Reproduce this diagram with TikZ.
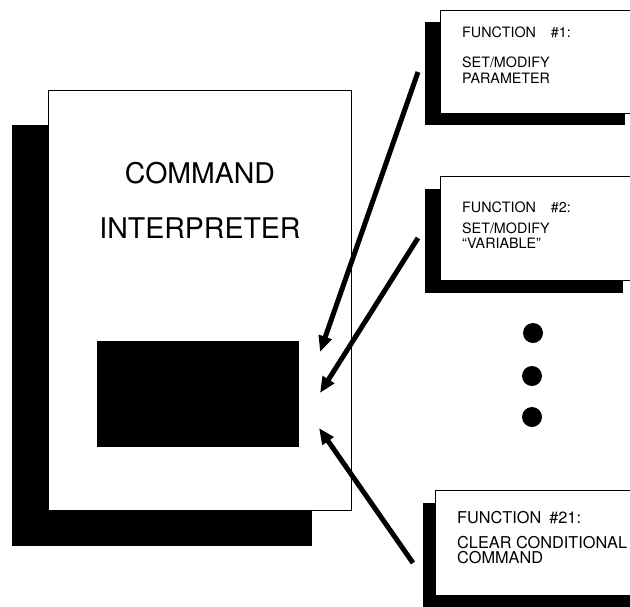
\documentclass[tikz,border=0pt]{standalone}
\usepackage{fontspec}
\setmainfont{TeX Gyre Heros}
\usetikzlibrary{arrows.meta}
\begin{document}
\begin{tikzpicture}[x=1pt,y=-1pt,
  sheet/.style={draw=black,line width=0.6pt,fill=white},
  big/.style={font=\fontsize{28.5}{30}\selectfont,anchor=base,inner sep=0pt},
  small/.style={font=\fontsize{14.3}{16}\selectfont,anchor=base west,inner sep=0pt},
  smallb/.style={font=\fontsize{16.3}{18}\selectfont,anchor=base west,inner sep=0pt},
  link/.style={line width=5pt,-{Triangle[length=16pt,width=13pt]}},
  blob/.style={circle,fill=black,inner sep=0pt,minimum size=20pt}]
\clip (0,0) rectangle (630,606);
\fill[white] (0,0) rectangle (630,606);
% command interpreter page
\fill (12,125) rectangle (312,546);
\draw[sheet] (48,90) rectangle (351,510);
\node[fill=black,minimum width=202pt,minimum height=106pt,inner sep=0pt] (slot) at (198,394) {};
\node[big] (cmd) at (200,183) {COMMAND};
\node[big] (interp) at (200,238) {INTERPRETER};
% function 1
\fill (425,22) rectangle (625,125);
\draw[sheet] (440,10) rectangle (660,113);
\node[small] (f1a) at (462,37) {FUNCTION\hspace{15pt}\#1:};
\node[small] (f1b) at (462,67) {SET/MODIFY};
\node[small] (f1c) at (462,83) {PARAMETER};
% function 2
\fill (425,189) rectangle (623,293);
\draw[sheet] (440,176) rectangle (660,280);
\node[small] (f2a) at (462,212) {FUNCTION\hspace{15pt}\#2:};
\node[small] (f2b) at (462,233) {SET/MODIFY};
\node[small] (f2c) at (462,248) {``VARIABLE''};
% dots
\node[blob] (d1) at (533,333) {};
\node[blob] (d2) at (532,376) {};
\node[blob] (d3) at (532,417) {};
% function 21
\fill (423,503) rectangle (640,640);
\draw[sheet] (435,490) rectangle (660,595);
\node[smallb] (f3a) at (457,523) {FUNCTION\hspace{8pt}\#21:};
\node[smallb] (f3b) at (457,548) {CLEAR CONDITIONAL};
\node[smallb] (f3c) at (457,563) {COMMAND};
% arrows
\coordinate (a1s) at (418,72);
\coordinate (a1e) at (320,352);
\coordinate (a2s) at (418,238);
\coordinate (a2e) at (320,393);
\coordinate (a3s) at (413,563);
\coordinate (a3e) at (319,428);
\draw[link] (a1s) -- (a1e);
\draw[link] (a2s) -- (a2e);
\draw[link] (a3s) -- (a3e);
\end{tikzpicture}
\end{document}
